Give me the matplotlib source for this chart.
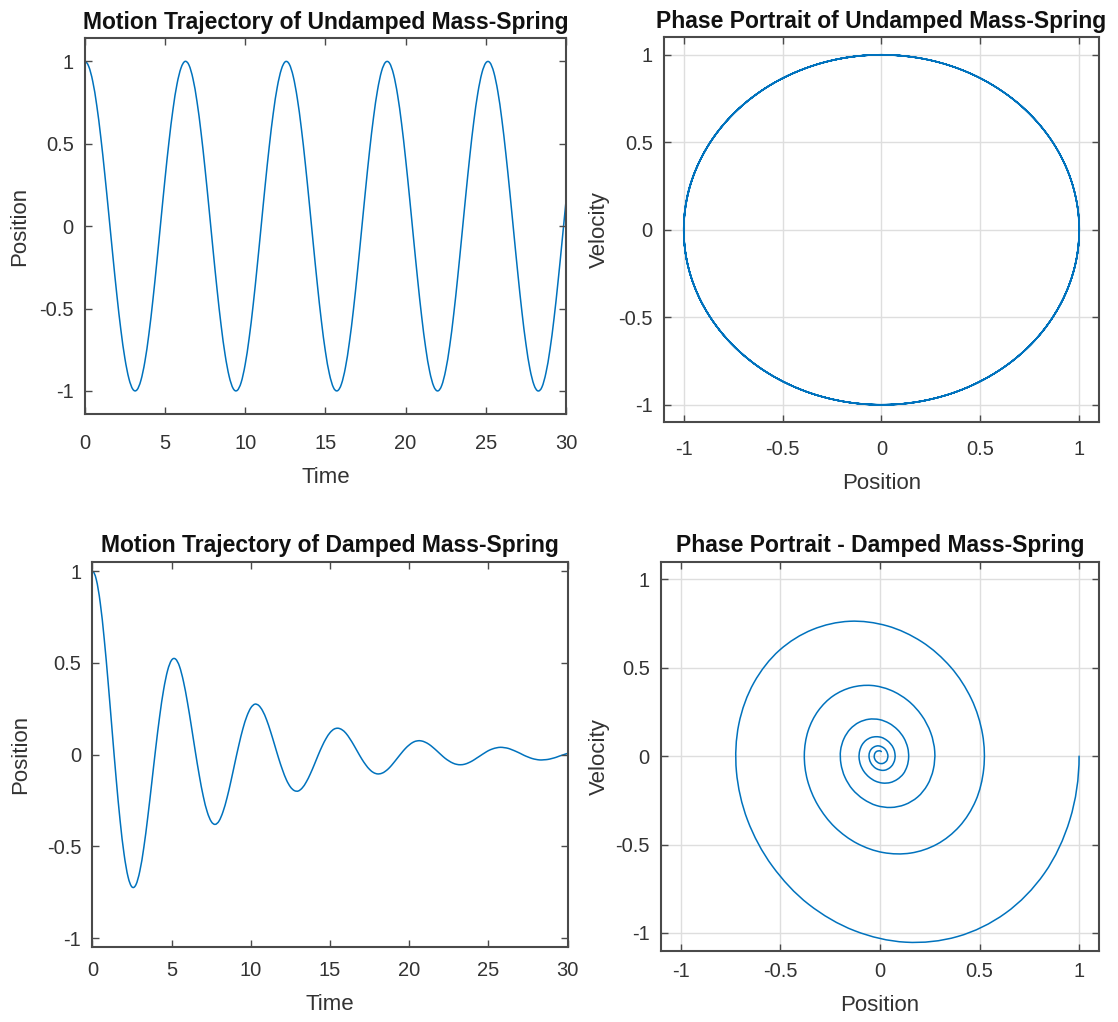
import matplotlib.pyplot as plt
import numpy as np
from matplotlib.ticker import FuncFormatter
from matplotlib.path import Path
from matplotlib.patches import PathPatch

plt.rcParams['font.family'] = ['Liberation Sans', 'DejaVu Sans']
plt.rcParams['axes.unicode_minus'] = False

# sample times (s), one reading every 0.25 s from 0 to 30
time_s = np.arange(121) * 0.25

# undamped mass-spring
undamped_pos = [
    1.000, 0.969, 0.878, 0.732, 0.540, 0.315, 0.071, -0.178, -0.416, -0.628,
    -0.801, -0.924, -0.990, -0.994, -0.936, -0.821, -0.654, -0.446, -0.211, 0.038,
    0.284, 0.512, 0.709, 0.862, 0.960, 1.000, 0.977, 0.893, 0.754, 0.568,
    0.347, 0.104, -0.146, -0.386, -0.602, -0.781, -0.911, -0.985, -0.997, -0.948,
    -0.839, -0.678, -0.476, -0.243, 0.004, 0.252, 0.483, 0.685, 0.844, 0.950,
    0.998, 0.983, 0.907, 0.775, 0.595, 0.378, 0.137, -0.113, -0.355, -0.575,
    -0.760, -0.897, -0.979, -0.999, -0.958, -0.857, -0.702, -0.505, -0.275, -0.029,
    0.219, 0.454, 0.660, 0.826, 0.940, 0.995, 0.989, 0.921, 0.796, 0.622,
    0.408, 0.170, -0.080, -0.324, -0.548, -0.738, -0.882, -0.971, -1.000, -0.967,
    -0.873, -0.726, -0.533, -0.307, -0.062, 0.187, 0.424, 0.635, 0.807, 0.928,
    0.991, 0.993, 0.933, 0.816, 0.647, 0.438, 0.202, -0.047, -0.292, -0.520,
    -0.715, -0.867, -0.963, -1.000, -0.976, -0.889, -0.748, -0.561, -0.338, -0.095,
    0.154,
]
undamped_vel = [
    0.000, -0.247, -0.479, -0.682, -0.841, -0.949, -0.997, -0.984, -0.909, -0.778,
    -0.598, -0.382, -0.141, 0.108, 0.351, 0.572, 0.757, 0.895, 0.978, 0.999,
    0.959, 0.859, 0.706, 0.506, 0.279, 0.033, -0.215, -0.450, -0.657, -0.823,
    -0.938, -0.995, -0.989, -0.923, -0.799, -0.625, -0.412, -0.174, 0.075, 0.317,
    0.544, 0.735, 0.880, 0.970, 1.000, 0.968, 0.876, 0.729, 0.537, 0.311,
    0.066, -0.183, -0.420, -0.632, -0.804, -0.926, -0.991, -0.994, -0.935, -0.818,
    -0.650, -0.442, -0.207, 0.042, 0.288, 0.516, 0.712, 0.863, 0.961, 1.000,
    0.976, 0.891, 0.751, 0.564, 0.343, 0.100, -0.150, -0.390, -0.606, -0.783,
    -0.913, -0.986, -0.997, -0.946, -0.837, -0.675, -0.471, -0.238, 0.009, 0.256,
    0.487, 0.688, 0.846, 0.952, 0.998, 0.982, 0.906, 0.772, 0.591, 0.373,
    0.132, -0.117, -0.359, -0.579, -0.763, -0.899, -0.979, -0.999, -0.956, -0.854,
    -0.699, -0.499, -0.271, -0.024, 0.224, 0.458, 0.664, 0.828, 0.941, 0.996,
    0.988,
]

# damped mass-spring
damped_pos = [
    1.000, 0.954, 0.826, 0.630, 0.390, 0.129, -0.128, -0.358, -0.541, -0.665,
    -0.721, -0.709, -0.633, -0.505, -0.339, -0.153, 0.036, 0.210, 0.355, 0.459,
    0.515, 0.521, 0.481, 0.399, 0.286, 0.154, 0.016, -0.114, -0.227, -0.312,
    -0.364, -0.380, -0.361, -0.310, -0.235, -0.143, -0.043, 0.054, 0.141, 0.209,
    0.255, 0.275, 0.268, 0.238, 0.189, 0.125, 0.054, -0.018, -0.083, -0.138,
    -0.176, -0.196, -0.198, -0.181, -0.149, -0.106, -0.056, -0.003, 0.046, 0.088,
    0.120, 0.139, 0.144, 0.136, 0.117, 0.087, 0.052, 0.014, -0.023, -0.055,
    -0.081, -0.098, -0.105, -0.102, -0.090, -0.071, -0.046, -0.019, 0.008, 0.033,
    0.053, 0.068, 0.075, 0.075, 0.068, 0.056, 0.039, 0.020, 0.000, -0.019,
    -0.034, -0.046, -0.053, -0.055, -0.052, -0.044, -0.033, -0.019, -0.005, 0.009,
    0.022, 0.031, 0.037, 0.040, 0.038, 0.034, 0.026, 0.017, 0.007, -0.004,
    -0.013, -0.021, -0.026, -0.029, -0.028, -0.026, -0.021, -0.015, -0.007, 0.000,
    0.007,
]
damped_vel = [
    0.000, -0.358, -0.662, -0.888, -1.020, -1.052, -0.987, -0.838, -0.621, -0.362,
    -0.086, 0.181, 0.416, 0.599, 0.716, 0.763, 0.737, 0.647, 0.504, 0.324,
    0.125, -0.072, -0.251, -0.397, -0.498, -0.548, -0.545, -0.494, -0.401, -0.277,
    -0.137, 0.008, 0.143, 0.257, 0.341, 0.389, 0.400, 0.373, 0.314, 0.231,
    0.132, 0.027, -0.074, -0.163, -0.231, -0.274, -0.290, -0.279, -0.243, -0.188,
    -0.119, -0.043, 0.032, 0.099, 0.154, 0.191, 0.209, 0.207, 0.186, 0.150,
    0.103, 0.049, -0.006, -0.057, -0.100, -0.131, -0.149, -0.152, -0.141, -0.118,
    -0.086, -0.048, -0.008, 0.030, 0.064, 0.089, 0.105, 0.110, 0.106, 0.091,
    0.070, 0.044, 0.015, -0.014, -0.039, -0.059, -0.073, -0.080, -0.078, -0.070,
    -0.056, -0.038, -0.017, 0.004, 0.023, 0.039, 0.050, 0.057, 0.058, 0.053,
    0.044, 0.032, 0.017, 0.002, -0.012, -0.025, -0.034, -0.040, -0.042, -0.040,
    -0.034, -0.026, -0.016, -0.005, 0.006, 0.015, 0.023, 0.028, 0.030, 0.030,
    0.026,
]

time_ticks = [0, 5, 10, 15, 20, 25, 30]
unit_ticks = [-1, -0.5, 0, 0.5, 1]

line_color = '#0072BD'
axis_color = '#4a4a4a'
text_color = '#333333'

fig = plt.figure(figsize=(11.18, 10.22), dpi=100)


def smooth_line(ax, t, xs, ys, dxs, dys):
    # draw the samples as a smooth curve (cubic segments, slopes from the data)
    t = np.asarray(t, dtype=float)
    xs, ys = np.asarray(xs, dtype=float), np.asarray(ys, dtype=float)
    dxs, dys = np.asarray(dxs, dtype=float), np.asarray(dys, dtype=float)
    h = np.diff(t)
    verts = [(xs[0], ys[0])]
    codes = [Path.MOVETO]
    for i in range(len(t) - 1):
        verts += [(xs[i] + dxs[i] * h[i] / 3, ys[i] + dys[i] * h[i] / 3),
                  (xs[i + 1] - dxs[i + 1] * h[i] / 3, ys[i + 1] - dys[i + 1] * h[i] / 3),
                  (xs[i + 1], ys[i + 1])]
        codes += [Path.CURVE4] * 3
    ax.add_patch(PathPatch(Path(verts, codes), fill=False, edgecolor=line_color,
                           linewidth=1.1, capstyle='round', joinstyle='round'))


def style_axes(ax, xlim, ylim, xticks, grid, xpad):
    ax.set_xlim(xlim)
    ax.set_ylim(ylim)
    ax.set_xticks(xticks)
    ax.set_yticks(unit_ticks)
    fmt = FuncFormatter(lambda v, p: f'{v:g}')
    ax.xaxis.set_major_formatter(fmt)
    ax.yaxis.set_major_formatter(fmt)
    ax.tick_params(direction='in', length=5, width=1, color=axis_color,
                   labelcolor=text_color, labelsize=14.5, top=True, right=True)
    ax.tick_params(axis='x', pad=xpad)
    ax.tick_params(axis='y', pad=8)
    for s in ax.spines.values():
        s.set_color(axis_color)
        s.set_linewidth(1.5)
    if grid:
        ax.grid(True, color='#dedede', linewidth=1.0)
        ax.set_axisbelow(True)


def labels(ax, title, xlabel, ylabel, ypad):
    ax.set_title(title, fontsize=16.5, fontweight='bold', color='#111111', pad=7)
    ax.set_xlabel(xlabel, fontsize=16, color=text_color, labelpad=10)
    ax.set_ylabel(ylabel, fontsize=16, color=text_color, labelpad=ypad)


vel_rate_u = np.gradient(np.asarray(undamped_vel), time_s, edge_order=2)
vel_rate_d = np.gradient(np.asarray(damped_vel), time_s, edge_order=2)
ones = np.ones_like(time_s)

# top left: undamped position vs time
ax1 = fig.add_axes([0.0758, 0.5949, 0.4305, 0.3676])
smooth_line(ax1, time_s, time_s, undamped_pos, ones, undamped_vel)
style_axes(ax1, (0, 30), (-1.14, 1.14), time_ticks, grid=False, xpad=14.5)
labels(ax1, 'Motion Trajectory of Undamped Mass-Spring', 'Time', 'Position', 6.6)

# top right: undamped phase portrait
ax2 = fig.add_axes([0.5939, 0.5868, 0.3891, 0.3767])
smooth_line(ax2, time_s, undamped_pos, undamped_vel, undamped_vel, vel_rate_u)
style_axes(ax2, (-1.1, 1.1), (-1.1, 1.1), unit_ticks, grid=True, xpad=13)
labels(ax2, 'Phase Portrait of Undamped Mass-Spring', 'Position', 'Velocity', 6)

# bottom left: damped position vs time
ax3 = fig.add_axes([0.0826, 0.0731, 0.4252, 0.3770])
smooth_line(ax3, time_s, time_s, damped_pos, ones, damped_vel)
style_axes(ax3, (0, 30), (-1.05, 1.05), time_ticks, grid=False, xpad=10)
labels(ax3, 'Motion Trajectory of Damped Mass-Spring', 'Time', 'Position', 11)

# bottom right: damped phase portrait
ax4 = fig.add_axes([0.5912, 0.0698, 0.3918, 0.3806])
smooth_line(ax4, time_s, damped_pos, damped_vel, damped_vel, vel_rate_d)
style_axes(ax4, (-1.1, 1.1), (-1.1, 1.1), unit_ticks, grid=True, xpad=8)
labels(ax4, 'Phase Portrait - Damped Mass-Spring', 'Position', 'Velocity', 4)

fig.savefig('out.png', dpi=100)
